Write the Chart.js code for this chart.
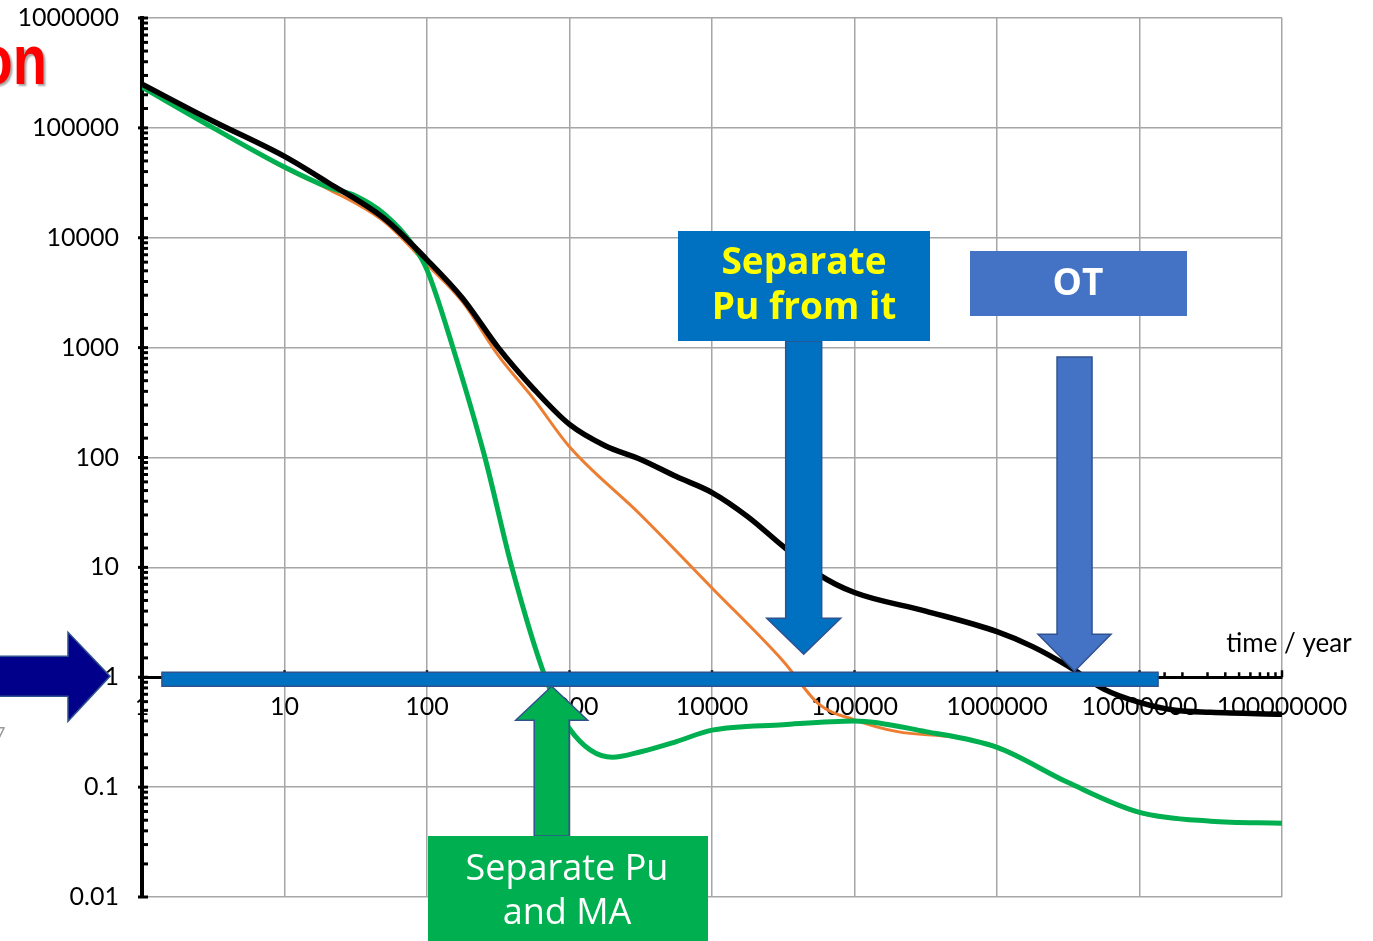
<!DOCTYPE html>
<html>
<head>
<meta charset="utf-8">
<script src="https://cdn.jsdelivr.net/npm/chart.js@4"></script>
<style>
  html, body { margin: 0; padding: 0; background: #fff; }
  #wrap { width: 1373px; height: 941px; position: relative; }
</style>
</head>
<body>
<div id="wrap"><canvas id="chart"></canvas></div>
<script>
// time / year (x) and values (y), three curves
const blackTime  = [1, 3.16, 10, 20, 50, 100, 178, 316, 562, 1000, 1778, 3162, 5623, 10000, 17783, 31623, 56234, 1e5, 3.16e5, 1e6, 1.78e6, 3.16e6, 5.62e6, 1e7, 1.78e7, 3.16e7, 1e8];
const blackVals  = [2.5e5, 1.15e5, 5.5e4, 3.2e4, 1.5e4, 6300, 2800, 1000, 420, 200, 128, 96, 67, 48, 29, 15.5, 8.6, 5.9, 4.0, 2.6, 1.9, 1.26, 0.78, 0.59, 0.5, 0.48, 0.46];

const greenTime  = [1, 3.16, 10, 20, 31.6, 50, 79, 100, 152, 255, 394, 676, 1000, 2000, 3162, 5623, 10000, 31623, 1e5, 3.16e5, 1e6, 3.16e6, 1e7, 3.16e7, 1e8];
const greenVals  = [2.35e5, 1e5, 4.4e4, 2.9e4, 2.4e4, 1.65e4, 8700, 5100, 1000, 100, 10, 1, 0.34, 0.187, 0.21, 0.26, 0.33, 0.37, 0.4, 0.32, 0.23, 0.11, 0.059, 0.049, 0.047];

const orangeTime = [1, 3.16, 10, 20, 50, 100, 178, 316, 562, 1000, 3162, 10000, 31623, 56234, 1e5, 2e5, 5e5, 1e6, 3.16e6, 1e7, 3.16e7, 1e8];
const orangeVals = [2.35e5, 1e5, 4.3e4, 2.8e4, 1.4e4, 5700, 2600, 850, 340, 125, 30, 6.5, 1.4, 0.57, 0.41, 0.32, 0.285, 0.235, 0.11, 0.058, 0.049, 0.047];

// axis range
const xMin = 1, xMax = 1e8;
const yMin = 0.01, yMax = 1e6;

// where the call-out arrows point (years)
const arrowSepPu = 4.4e4;
const arrowOT = 3.5e6;
const arrowSepMA = 750;
const barFrom = 1.38, barTo = 1.35e7;

function pairs(xs, ys) { return xs.map((x, i) => ({ x: x, y: ys[i] })); }
function isPow10(v) { const l = Math.log10(v); return Math.abs(l - Math.round(l)) < 1e-6; }
function fmtPow10(v) {
  const e = Math.round(Math.log10(v));
  return e >= 0 ? String(Math.pow(10, e)) : Math.pow(10, e).toFixed(-e);
}

function blockArrow(ctx, pts, fill, stroke) {
  ctx.beginPath();
  ctx.moveTo(pts[0][0], pts[0][1]);
  for (let i = 1; i < pts.length; i++) ctx.lineTo(pts[i][0], pts[i][1]);
  ctx.closePath();
  ctx.fillStyle = fill;
  ctx.fill();
  ctx.lineWidth = 1.5;
  ctx.strokeStyle = stroke;
  ctx.stroke();
}
// vertical block arrow from 'end' to the tip (tx, ty)
function vArrow(ctx, tx, ty, end, bw, hw, hl, fill, stroke) {
  const d = ty > end ? 1 : -1;
  const hb = ty - d * hl;
  blockArrow(ctx, [[tx - bw / 2, end], [tx + bw / 2, end], [tx + bw / 2, hb], [tx + hw / 2, hb],
    [tx, ty], [tx - hw / 2, hb], [tx - bw / 2, hb]], fill, stroke);
}

const minorTicks = {
  id: 'minorTicks',
  beforeDatasetsDraw(chart) {
    const { ctx, scales: { x, y } } = chart;
    const left = chart.chartArea.left;
    const y1 = y.getPixelForValue(1);
    ctx.save();
    ctx.strokeStyle = '#000';
    ctx.lineWidth = 3;
    y.ticks.forEach(t => {
      const py = y.getPixelForValue(t.value);
      ctx.beginPath();
      ctx.moveTo(isPow10(t.value) ? left - 4 : left, py);
      ctx.lineTo(left + 6, py);
      ctx.stroke();
    });
    ctx.lineWidth = 2.5;
    x.ticks.forEach(t => {
      const px = x.getPixelForValue(t.value);
      ctx.beginPath();
      ctx.moveTo(px, y1 - (isPow10(t.value) ? 7 : 5));
      ctx.lineTo(px, y1);
      ctx.stroke();
    });
    ctx.restore();
  }
};

const callouts = {
  id: 'callouts',
  afterDraw(chart) {
    const { ctx, scales: { x, y } } = chart;
    const y1 = y.getPixelForValue(1);
    ctx.save();

    // thick bar on the 1 line
    const bx0 = x.getPixelForValue(barFrom), bx1 = x.getPixelForValue(barTo);
    ctx.fillStyle = '#0070C0';
    ctx.fillRect(bx0, y1 - 5, bx1 - bx0, 14);
    ctx.lineWidth = 1.5;
    ctx.strokeStyle = '#2F528F';
    ctx.strokeRect(bx0, y1 - 5, bx1 - bx0, 14);

    // "Separate Pu from it"
    const sx = x.getPixelForValue(arrowSepPu);
    vArrow(ctx, sx, y1 - 23, 341, 36, 74, 36, '#0070C0', '#2F528F');
    ctx.fillStyle = '#0070C0';
    ctx.fillRect(678, 231, 252, 110);
    ctx.fillStyle = '#FFFF00';
    ctx.font = 'bold 37px "Open Sans"';
    ctx.textAlign = 'center';
    ctx.textBaseline = 'middle';
    ctx.fillText('Separate', 804, 263);
    ctx.fillText('Pu from it', 804, 308);

    // "OT"
    const ox = x.getPixelForValue(arrowOT);
    vArrow(ctx, ox, y1 - 6, 357, 35, 73, 37, '#4472C4', '#2F528F');
    ctx.fillStyle = '#4472C4';
    ctx.fillRect(970, 251, 217, 65);
    ctx.fillStyle = '#FFFFFF';
    ctx.font = 'bold 37px "Open Sans"';
    ctx.fillText('OT', 1078, 284);

    // "Separate Pu and MA"
    const gx = x.getPixelForValue(arrowSepMA);
    vArrow(ctx, gx, y1 + 9, 836, 35, 72, 34, '#00B050', '#2F528F');
    ctx.fillStyle = '#00B050';
    ctx.fillRect(428, 836, 280, 110);
    ctx.fillStyle = '#FFFFFF';
    ctx.font = '36px "Open Sans"';
    ctx.fillText('Separate Pu', 567, 870);
    ctx.fillText('and MA', 567, 914);

    // navy arrow on the left pointing at 1
    const ax = 110;
    blockArrow(ctx, [[-5, y1 - 21], [68, y1 - 21], [68, y1 - 45], [ax, y1 - 1], [68, y1 + 44],
      [68, y1 + 19], [-5, y1 + 19]], '#00008B', '#2F528F');

    // axis title
    ctx.fillStyle = '#000';
    ctx.font = '26px Lato';
    ctx.fillText('time / year', 1289, 644);

    // cut-off title text at the top left
    ctx.save();
    ctx.shadowColor = 'rgba(0,0,0,0.35)';
    ctx.shadowOffsetX = 2;
    ctx.shadowOffsetY = 2;
    ctx.shadowBlur = 2;
    ctx.fillStyle = '#FF0000';
    ctx.font = 'bold 70px "Liberation Sans"';
    ctx.textAlign = 'right';
    ctx.textBaseline = 'alphabetic';
    ctx.translate(47, 84);
    ctx.scale(0.8, 1);
    ctx.fillText('on', 0, 0);
    ctx.restore();

    ctx.fillStyle = '#999';
    ctx.font = '18px Lato';
    ctx.textAlign = 'left';
    ctx.fillText('7', -5, 734);

    ctx.restore();
  }
};

const tickFont = { family: 'Lato', size: 25 };

new Chart(document.getElementById('chart'), {
  type: 'line',
  data: {
    datasets: [
      { label: 'total', data: pairs(blackTime, blackVals), borderColor: '#000000', borderWidth: 5.5 },
      { label: 'Pu and MA separated', data: pairs(greenTime, greenVals), borderColor: '#00B050', borderWidth: 5 },
      { label: 'Pu separated', data: pairs(orangeTime, orangeVals), borderColor: '#ED7D31', borderWidth: 3 }
    ]
  },
  options: {
    responsive: true,
    maintainAspectRatio: false,
    animation: false,
    layout: { padding: { left: 0, top: 18, right: 91, bottom: 44 } },
    elements: {
      point: { radius: 0 },
      line: { cubicInterpolationMode: 'monotone', fill: false }
    },
    plugins: { legend: { display: false }, tooltip: { enabled: false } },
    scales: {
      x: {
        type: 'logarithmic',
        min: xMin,
        max: xMax,
        position: { y: 1 },
        border: { color: '#000', width: 3 },
        grid: {
          drawTicks: false,
          color: '#A6A6A6',
          lineWidth: c => (c.tick && isPow10(c.tick.value) ? 1.5 : 0)
        },
        ticks: {
          autoSkip: false,
          maxRotation: 0,
          minRotation: 0,
          padding: 15,
          color: '#000',
          font: tickFont,
          callback: v => (isPow10(v) ? fmtPow10(v) : '')
        }
      },
      y: {
        type: 'logarithmic',
        min: yMin,
        max: yMax,
        border: { color: '#000', width: 4 },
        afterFit: s => { s.width = 142; },
        grid: {
          drawTicks: true,
          tickLength: 23,
          tickColor: 'transparent',
          color: '#A6A6A6',
          lineWidth: c => (c.tick && isPow10(c.tick.value) ? 1.5 : 0)
        },
        ticks: {
          autoSkip: false,
          padding: 0,
          color: '#000',
          font: tickFont,
          callback: v => (isPow10(v) ? fmtPow10(v) : '')
        }
      }
    }
  },
  plugins: [minorTicks, callouts]
});
</script>
</body>
</html>
